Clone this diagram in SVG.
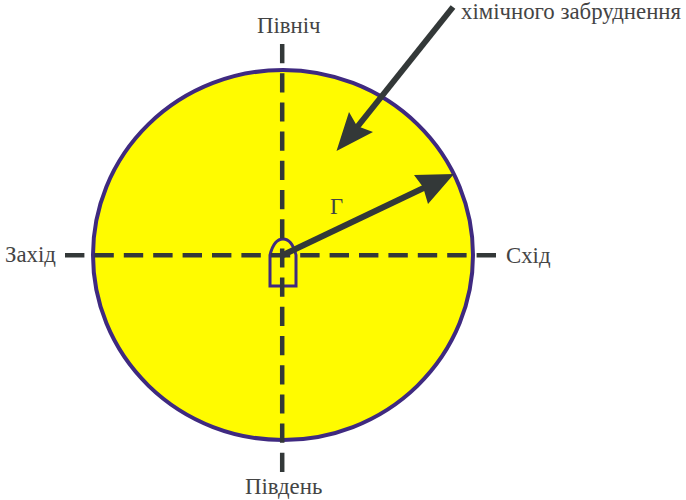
<svg xmlns="http://www.w3.org/2000/svg" width="686" height="500" viewBox="0 0 686 500">
<style>
text{font-family:"Liberation Serif","Times New Roman",serif;font-size:22.8px;fill:#444}
.d{stroke:#333838;stroke-width:4.5;fill:none}
.a{stroke:#333838;stroke-width:6;fill:none}
.h{fill:#333838}
</style>
<rect width="686" height="500" fill="#fff"/>
<g id="circle"><ellipse cx="283" cy="255" rx="190" ry="185" fill="#fffb00" stroke="#3f2a80" stroke-width="4"/></g>
<g id="marker"><path d="M270 286V255Q274 239 283 239Q292 239 296 255V286Z" fill="none" stroke="#3f2a80" stroke-width="3"/></g>
<g id="connectors">
<path class="d" stroke-dasharray="19.2 10" d="M282.2 44V472"/>
<path class="d" stroke-dasharray="19.4 10" d="M65 255.3H496"/>
<path class="a" d="M283 255L432 184"/>
<polygon class="h" points="454,174 414,175 423,187 428,204"/>
<path class="a" d="M453 7L350 136"/>
<polygon class="h" points="336.5,151 349,112 357,126 373,132"/>
</g>
<g id="north"><text x="257" y="33">Північ</text></g>
<g id="south"><text x="245" y="494">Південь</text></g>
<g id="west"><text x="5" y="262">Захід</text></g>
<g id="east"><text x="506" y="263">Схід</text></g>
<g id="gamma"><text x="330" y="214">Г</text></g>
<g id="label"><text x="461" y="19">хімічного забруднення</text></g>
</svg>
